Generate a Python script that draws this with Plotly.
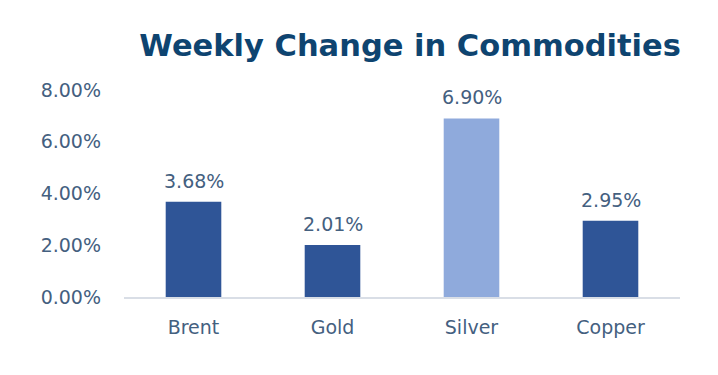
import plotly.graph_objects as go

categories = ["Brent", "Gold", "Silver", "Copper"]
values = [3.68, 2.01, 6.90, 2.95]
colors = ["#2F5597", "#2F5597", "#8FAADC", "#2F5597"]
tick_vals = [0, 2, 4, 6, 8]
tick_text = ["0.00%", "2.00%", "4.00%", "6.00%", "8.00%"]

txt_color = "#44607F"
font_family = "'DejaVu Sans', sans-serif"

fig = go.Figure(go.Bar(
    x=categories, y=values,
    marker=dict(color=colors, line=dict(width=0)),
    cliponaxis=False,
))

for c, v in zip(categories, values):
    fig.add_annotation(x=c, y=v, text=f"{v:.2f}%", showarrow=False,
                       yanchor="bottom", yshift=8,
                       font=dict(size=19, color=txt_color, family=font_family))

fig.update_layout(
    width=718, height=375,
    margin=dict(l=116, r=46, t=82, b=86),
    paper_bgcolor="white", plot_bgcolor="white",
    bargap=0.6,
    showlegend=False,
    title=dict(text="<b>Weekly Change in Commodities</b>",
               x=0.56, xanchor="center", y=0.901, yanchor="middle",
               font=dict(size=30.5, color="#0E4470", family=font_family)),
    xaxis=dict(showline=True, linecolor="#D9DEE6", linewidth=2,
               tickfont=dict(size=19, color=txt_color, family=font_family),
               ticks="", ticklabelstandoff=12, automargin=False),
    yaxis=dict(range=[0, 8], tickvals=tick_vals, ticktext=tick_text,
               showgrid=False, zeroline=False, showline=False,
               tickfont=dict(size=19, color=txt_color, family=font_family),
               ticks="", ticklabelstandoff=22, automargin=False),
)

fig.write_html("out.html")
